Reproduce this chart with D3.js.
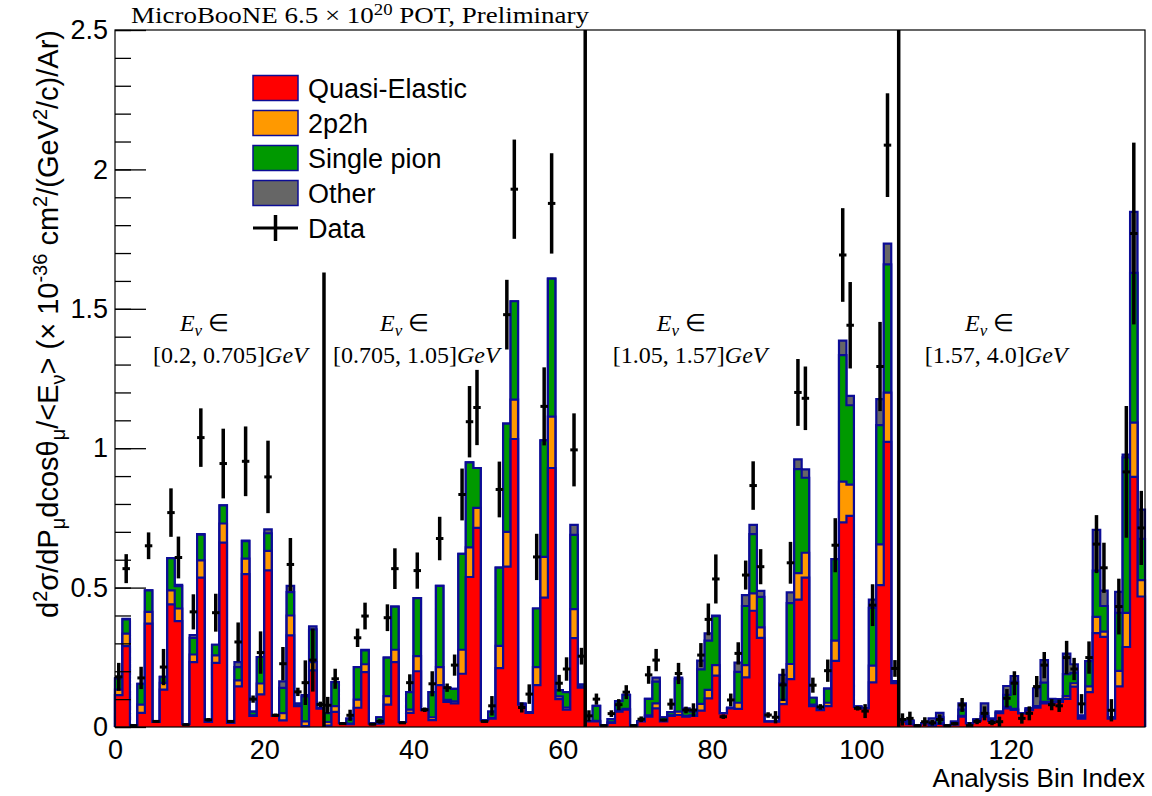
<!DOCTYPE html>
<html>
<head>
<meta charset="utf-8">
<script src="https://cdn.jsdelivr.net/npm/d3@7"></script>
<style>
  body { margin: 0; background: #ffffff; }
  svg { display: block; }
</style>
</head>
<body>
<svg id="chart" width="1152" height="796"></svg>
<script>
// ---- Cross-section per analysis bin, split by interaction channel ----
const qe = [.114,.29,.005,.051,.371,.018,.134,.44,.38,.01,
  .233,.536,.018,.23,.661,.015,.146,.548,.04,.117,
  .562,.04,.024,.329,.075,.003,.203,.066,.005,.054,
  .014,.01,.069,.197,.012,.012,.08,.233,.018,.051,
  .2,.06,.025,.15,.09,.085,.191,.538,.714,.024,
  .03,.211,.575,1.033,.08,.051,.15,.464,.929,.1,
  .062,.319,.141,.02,.02,.007,.015,.055,.062,.005,
  .02,.037,.067,.02,.04,.043,.037,.04,.059,.103,
  .184,.049,.067,.065,.178,.417,.32,.019,.019,.082,
  .172,.457,.536,.075,.06,.075,.237,.734,.757,.072,
  .067,.16,.509,1.023,.157,.019,.01,.007,.013,.005,
  .011,.007,.008,.037,.013,.023,.037,.022,.05,.067,
  .061,.049,.06,.069,.085,.087,.09,.101,.145,.03,
  .125,.337,.323,.03,.146,.287,.897,.468];

const twoP2h = [.02,.045,0,.029,.042,.001,.024,.05,.045,0,
  .027,.062,.001,.027,.069,0,.021,.056,.002,.039,
  .07,.001,.026,.071,.002,.017,.03,.001,.013,.021,
  0,.002,.029,.028,0,.003,.031,.044,0,.011,
  .054,.001,.01,.065,.007,.007,.086,.106,.072,0,
  .002,.08,.125,.141,.002,.001,.065,.146,.184,.01,
  .008,.104,.004,0,.002,0,.002,.005,.003,0,
  0,.005,.018,.002,.002,.012,.003,.002,.024,.03,
  .038,.001,.002,.022,.044,.062,.037,0,0,.015,
  .054,.095,.089,.005,.001,.012,.073,.146,.112,.001,
  .001,.06,.146,.176,.003,0,.002,0,0,.001,
  .002,0,.002,.003,0,.002,.002,.001,.002,.005,
  .004,.001,.002,.001,.005,.003,.002,.01,.012,.002,
  .021,.058,.019,.002,.055,.122,.195,.059];

const singlePion = [.039,.051,0,.075,.077,.001,.022,.116,.08,0,
  .06,.092,.001,.038,.065,0,.048,.063,.013,.095,
  .063,.001,.09,.084,.007,.09,.117,.001,.032,.086,
  0,.018,.117,.05,0,.02,.138,.155,0,.063,
  .208,.002,.09,.291,.043,.045,.344,.305,.143,0,
  .023,.281,.388,.353,.002,.001,.21,.418,.495,.022,
  .055,.266,.007,0,.054,0,.011,.033,.05,0,
  0,.059,.078,.013,.011,.117,.02,.013,.124,.177,
  .176,0,0,.111,.212,.213,.11,0,0,.06,
  .218,.373,.269,.025,.001,.051,.292,.454,.285,0,
  0,.207,.428,.46,.005,0,.011,0,0,.004,
  .022,0,.009,.022,0,.002,.01,.002,.003,.043,
  .098,0,.005,.005,.069,.01,.008,.079,.037,.008,
  .09,.166,.092,.003,.208,.558,.537,.148];

const other = [.002,.002,.001,0,0,0,0,0,.005,0,
  .01,.002,0,0,0,0,.018,.002,0,0,
  .014,0,.024,.022,0,.004,.011,0,0,0,
  0,0,0,.002,0,0,0,0,0,0,
  0,0,0,0,0,0,0,0,0,0,
  0,0,0,0,0,0,0,0,0,0,
  0,.036,0,0,0,0,0,0,0,0,
  0,0,.014,0,0,.005,.007,0,.031,.026,
  .002,0,0,.033,.039,.033,.021,0,0,.03,
  .039,.035,.03,0,0,0,0,.052,.034,0,
  0,.03,.093,.075,0,0,0,0,0,.021,
  .016,0,0,.023,0,0,.036,.006,0,.032,
  .02,0,0,.064,.081,.001,0,.073,.031,.002,
  0,.146,.055,0,.076,.01,.219,.105];

// Measured cross section and its uncertainty
const dataVal = [.18,.568,.005,.176,.65,.02,.215,.769,.608,.008,
  .413,1.038,.026,.41,.945,.02,.305,.953,.1,.267,
  .897,.042,.227,.583,.126,.159,.24,.081,.078,.173,
  .012,.042,.32,.398,.01,.02,.392,.568,.015,.159,
  .561,.062,.155,.676,.141,.222,.834,1.095,1.146,.02,
  .076,.852,1.479,1.929,.07,.118,.61,1.15,1.878,.157,
  .208,.994,.254,.04,.1,.005,.048,.08,.125,.005,
  .028,.187,.24,.025,.082,.192,.061,.061,.258,.386,
  .531,.037,.097,.264,.545,.866,.575,.043,.035,.151,
  .589,1.2,1.179,.15,.072,.202,.652,1.693,1.441,.067,
  .057,.437,1.293,2.087,.21,.027,.031,.005,.019,.015,
  .027,.005,.012,.079,.005,.02,.049,.016,.019,.103,
  .157,.031,.049,.145,.222,.08,.076,.249,.208,.083,
  .249,.656,.571,.06,.432,.915,1.77,.714];

const dataErr = [.05,.052,.003,.04,.048,.005,.065,.087,.075,.004,
  .063,.105,.006,.068,.125,.005,.07,.125,.013,.076,
  .13,.006,.06,.095,.015,.08,.113,.01,.03,.036,
  .004,.02,.033,.048,.004,.008,.048,.073,.004,.03,
  .065,.008,.045,.078,.015,.038,.093,.128,.135,.005,
  .035,.1,.125,.178,.018,.035,.083,.14,.18,.03,
  .042,.131,.03,.02,.02,.003,.012,.02,.025,.003,
  .01,.032,.04,.005,.02,.038,.012,.024,.043,.057,
  .088,.008,.023,.04,.052,.087,.063,.01,.022,.058,
  .075,.12,.114,.027,.01,.04,.097,.168,.155,.008,
  .025,.075,.16,.186,.03,.022,.024,.003,.016,.01,
  .018,.003,.006,.025,.012,.01,.025,.01,.018,.033,
  .043,.019,.025,.038,.047,.02,.022,.06,.04,.035,
  .058,.104,.09,.04,.1,.236,.326,.133];

const channelNames = ["Quasi-Elastic", "2p2h", "Single pion", "Other"];
const channelColors = ["#ff0000", "#ff9900", "#009900", "#666666"];

const yMajorTicks = [0, 0.5, 1, 1.5, 2, 2.5];
const xTickValues = [0, 20, 40, 60, 80, 100, 120];

// Neutrino-energy slices: boundary bin and how far up its divider is drawn
const sliceEdges = [28, 63, 105];
const sliceEdgeTops = [1.63, 2.5, 2.5];
const sliceRanges = ["[0.2, 0.705]", "[0.705, 1.05]", "[1.05, 1.57]", "[1.57, 4.0]"];
// label anchor positions in bin units: [first line start, second line start]
const sliceLabelBins = [[8.7, 5.1], [35.5, 29.2], [72.6, 66.7], [113.9, 108.5]];

// ---- Layout ----
const nBins = qe.length;
const svg = d3.select("#chart");
const plotLeft = 115, plotRight = 1145, plotTop = 30, plotBottom = 727;

const x = d3.scaleLinear().domain([0, nBins]).range([plotLeft, plotRight]);
const y = d3.scaleLinear().domain([0, 2.5]).range([plotBottom, plotTop]);

const OUTLINE = "#0c0c96";
const SANS = "'Liberation Sans', Arial, sans-serif";
const SERIF = "'Liberation Serif', 'Times New Roman', serif";

// ---- Stacked histogram ----
const table = d3.range(nBins).map(i => ({
  i, qe: qe[i], twoP2h: twoP2h[i], singlePion: singlePion[i], other: other[i]
}));
const keys = ["qe", "twoP2h", "singlePion", "other"];
const stacked = d3.stack().keys(keys)(table);

const histLayer = svg.append("g");
const areaGen = d3.area()
  .x(d => x(d.x)).y0(y(0)).y1(d => y(d.v))
  .curve(d3.curveStepAfter);
const lineGen = d3.line()
  .x(d => x(d.x)).y(d => y(d.v))
  .curve(d3.curveStepAfter);

// Cumulative histograms painted from the tallest down, like a THStack
for (let k = keys.length - 1; k >= 0; k--) {
  const tops = stacked[k].map(d => d[1]);
  const pts = tops.map((v, i) => ({ x: i, v }));
  pts.push({ x: nBins, v: tops[nBins - 1] });
  histLayer.append("path")
    .attr("d", areaGen(pts))
    .attr("fill", channelColors[k]);
  const outline = [{ x: 0, v: 0 }].concat(pts, [{ x: nBins, v: 0 }]);
  histLayer.append("path")
    .attr("d", lineGen(outline))
    .attr("fill", "none")
    .attr("stroke", OUTLINE)
    .attr("stroke-width", 2.2);
}

// ---- Data points with error bars ----
const dataLayer = svg.append("g").attr("stroke", "#000");
dataVal.forEach((v, i) => {
  const e = dataErr[i];
  dataLayer.append("line")
    .attr("stroke-width", 3.5)
    .attr("x1", x(i + 0.5)).attr("x2", x(i + 0.5))
    .attr("y1", y(Math.max(0, v - e))).attr("y2", y(v + e));
  dataLayer.append("line")
    .attr("stroke-width", 3)
    .attr("x1", x(i)).attr("x2", x(i + 1))
    .attr("y1", y(v)).attr("y2", y(v));
});

// ---- Slice dividers ----
sliceEdges.forEach((b, j) => {
  svg.append("line")
    .attr("x1", x(b)).attr("x2", x(b))
    .attr("y1", y(0)).attr("y2", y(sliceEdgeTops[j]))
    .attr("stroke", "#000").attr("stroke-width", 3.5);
});

// ---- Frame and axes ----
svg.append("rect")
  .attr("x", plotLeft).attr("y", plotTop)
  .attr("width", plotRight - plotLeft).attr("height", plotBottom - plotTop)
  .attr("fill", "none").attr("stroke", "#000").attr("stroke-width", 1.2);

const yMinor = svg.append("g").attr("transform", `translate(${plotLeft},0)`)
  .call(d3.axisLeft(y).tickValues(d3.range(0, 26).map(k => k / 10)).tickSize(-16).tickFormat(""));
yMinor.select(".domain").remove();
yMinor.selectAll("line").attr("stroke-width", 1.3);

const yAxis = svg.append("g").attr("transform", `translate(${plotLeft},0)`)
  .call(d3.axisLeft(y).tickValues(yMajorTicks).tickSize(-31).tickPadding(7)
    .tickFormat(d3.format("~g")));
yAxis.select(".domain").remove();
yAxis.selectAll("line").attr("stroke-width", 1.3);
yAxis.selectAll("text")
  .attr("font-family", SANS)
  .attr("font-size", 27).attr("fill", "#000");

const xAxis = svg.append("g").attr("transform", `translate(0,${plotBottom})`)
  .call(d3.axisBottom(x).tickValues(xTickValues).tickSize(0).tickPadding(13));
xAxis.select(".domain").remove();
xAxis.selectAll("text")
  .attr("font-family", SANS)
  .attr("font-size", 27).attr("fill", "#000");

// Axis titles
svg.append("text")
  .attr("x", plotRight).attr("y", 787)
  .attr("text-anchor", "end")
  .attr("font-family", SANS)
  .attr("font-size", 26)
  .text("Analysis Bin Index");

const yTitle = svg.append("text")
  .attr("transform", `translate(58,${plotTop}) rotate(-90)`)
  .attr("text-anchor", "end")
  .attr("font-family", SANS)
  .attr("font-size", 29);
const yParts = [
  ["d", 0], ["2", -1], ["σ/dP", 0], ["μ", 1], ["dcosθ", 0], ["μ", 1],
  ["/<E", 0], ["ν", 1], ["> (× 10", 0], ["-36", -1], [" cm", 0], ["2", -1],
  ["/(GeV", 0], ["2", -1], ["/c)/Ar)", 0]
];
let prevShift = 0;
yParts.forEach(([t, s]) => {
  const shift = s === -1 ? -11 : s === 1 ? 7 : 0;
  yTitle.append("tspan")
    .attr("dy", shift - prevShift)
    .attr("font-size", s === 0 ? 29 : 20)
    .text(t);
  prevShift = shift;
});

// ---- Header ----
const header = svg.append("text")
  .attr("x", 131).attr("y", 23)
  .attr("font-family", SERIF)
  .attr("font-size", 23)
  .attr("textLength", 458)
  .attr("lengthAdjust", "spacingAndGlyphs");
header.append("tspan").text("MicroBooNE 6.5 × 10");
header.append("tspan").attr("dy", -8).attr("font-size", 16).text("20");
header.append("tspan").attr("dy", 8).text(" POT, Preliminary");

// ---- Energy slice labels ----
sliceRanges.forEach((r, j) => {
  const g = svg.append("g")
    .attr("font-family", SERIF)
    .attr("font-size", 24);
  const l1 = g.append("text").attr("x", x(sliceLabelBins[j][0])).attr("y", 331);
  l1.append("tspan").attr("font-style", "italic").text("E");
  l1.append("tspan").attr("font-style", "italic").attr("font-size", 17).attr("dy", 5).text("ν");
  l1.append("tspan").attr("dy", -5).text(" ∈");
  const l2 = g.append("text").attr("x", x(sliceLabelBins[j][1])).attr("y", 363);
  l2.append("tspan").text(r);
  l2.append("tspan").attr("font-style", "italic").text("GeV");
});

// ---- Legend ----
const legend = svg.append("g")
  .attr("font-family", SANS)
  .attr("font-size", 27);
const legY0 = 88, legStep = 35, legX = 253, swW = 45, swH = 25;
channelNames.forEach((name, k) => {
  const cy = legY0 + k * legStep;
  legend.append("rect")
    .attr("x", legX).attr("y", cy - swH / 2)
    .attr("width", swW).attr("height", swH)
    .attr("fill", channelColors[k])
    .attr("stroke", OUTLINE).attr("stroke-width", 1.5);
  legend.append("text").attr("x", 308).attr("y", cy + 10).text(name);
});
{
  const cy = legY0 + 4 * legStep;
  legend.append("line")
    .attr("x1", legX).attr("x2", legX + swW).attr("y1", cy).attr("y2", cy)
    .attr("stroke", "#000").attr("stroke-width", 3);
  legend.append("line")
    .attr("x1", legX + swW / 2).attr("x2", legX + swW / 2)
    .attr("y1", cy - 13).attr("y2", cy + 13)
    .attr("stroke", "#000").attr("stroke-width", 3.5);
  legend.append("text").attr("x", 308).attr("y", cy + 10).text("Data");
}
</script>
</body>
</html>
